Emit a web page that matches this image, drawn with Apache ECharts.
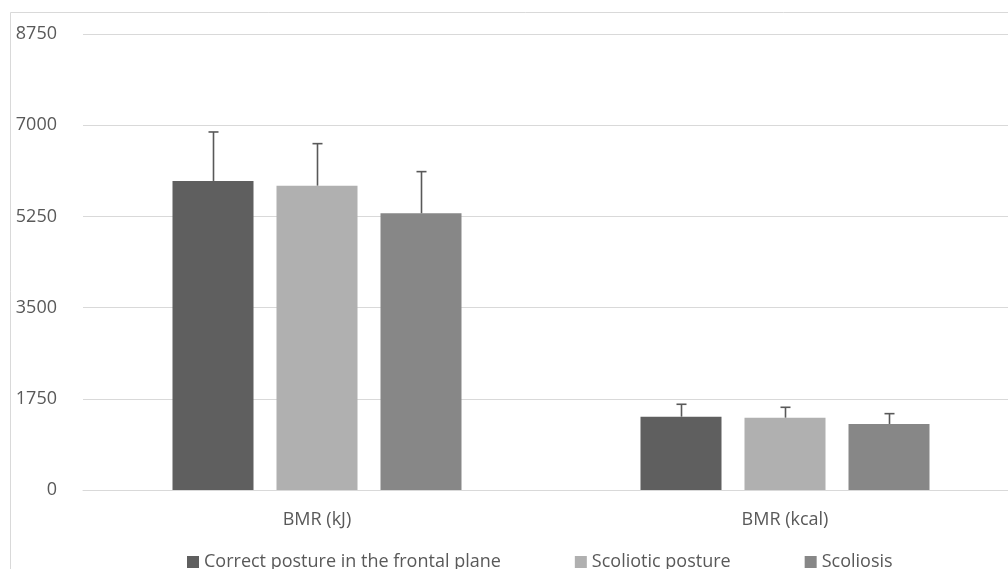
<!DOCTYPE html>
<html>
<head>
<meta charset="utf-8">
<script src="https://cdn.jsdelivr.net/npm/echarts@6/dist/echarts.min.js"></script>
<style>html,body{margin:0;padding:0;background:#fff;overflow:hidden;}#c{width:1040px;height:569px;}</style>
</head>
<body>
<div id="c"></div>
<script>
const categories = ['BMR (kJ)', 'BMR (kcal)'];
const seriesNames = ['Correct posture in the frontal plane', 'Scoliotic posture', 'Scoliosis'];
const correctMean = [5930, 1407];
const correctSD = [940, 238];
const scolioticMean = [5840, 1388];
const scolioticSD = [806, 199];
const scoliosisMean = [5311, 1267];
const scoliosisSD = [798, 198];
const yTicks = [0, 1750, 3500, 5250, 7000, 8750];

const means = [correctMean, scolioticMean, scoliosisMean];
const sds = [correctSD, scolioticSD, scoliosisSD];
const colors = ['#5f5f5f', '#b0b0b0', '#878787'];
const BAR_W = 81, GAP = 23;
const FONT = 'Open Sans';

const chart = echarts.init(document.getElementById('c'));
const series = [];
seriesNames.forEach((name, i) => {
  series.push({
    name: name, type: 'bar', data: means[i], barWidth: BAR_W, barGap: (GAP / BAR_W * 100) + '%',
    itemStyle: { color: colors[i] }, z: 2
  });
});
seriesNames.forEach((name, i) => {
  series.push({
    type: 'custom', name: name + ' err', z: 3, silent: true,
    data: means[i].map((m, j) => [j, m, m + sds[i][j]]),
    renderItem: function (params, api) {
      const base = api.coord([api.value(0), api.value(1)]);
      const top = api.coord([api.value(0), api.value(2)]);
      const x = Math.round(base[0] + (i - 1) * (BAR_W + GAP)) + 0.5;
      const style = { stroke: '#595959', lineWidth: 1.6 };
      return {
        type: 'group', children: [
          { type: 'line', shape: { x1: x, y1: base[1], x2: x, y2: top[1] }, style: style },
          { type: 'line', shape: { x1: x - 5, y1: top[1], x2: x + 5, y2: top[1] }, style: style }
        ]
      };
    }
  });
});

chart.setOption({
  animation: false,
  backgroundColor: '#fff',
  textStyle: { fontFamily: FONT },
  graphic: [{
    type: 'rect', shape: { x: 10.5, y: 12.5, width: 1200, height: 1000 },
    style: { fill: 'none', stroke: '#d9d9d9', lineWidth: 1 }, z: -1
  }],
  grid: { left: 83, top: 34, width: 936, bottom: 79 },
  legend: {
    data: seriesNames, left: 187, top: 553, padding: 0, itemGap: 74, itemWidth: 12, itemHeight: 12,
    icon: 'rect', itemStyle: { borderWidth: 0 },
    textStyle: { fontFamily: FONT, fontSize: 18, color: '#595959' }
  },
  xAxis: {
    type: 'category', data: categories,
    axisLine: { lineStyle: { color: '#d9d9d9', width: 1 } },
    axisTick: { show: false },
    axisLabel: { fontFamily: FONT, fontSize: 18, color: '#595959', margin: 21 }
  },
  yAxis: {
    type: 'value', min: yTicks[0], max: yTicks[yTicks.length - 1], interval: yTicks[1] - yTicks[0],
    axisLine: { show: false }, axisTick: { show: false },
    splitLine: { lineStyle: { color: '#d9d9d9', width: 1 } },
    axisLabel: { fontFamily: FONT, fontSize: 18, color: '#595959', margin: 26, formatter: v => String(v) }
  },
  series: series
});
</script>
</body>
</html>
